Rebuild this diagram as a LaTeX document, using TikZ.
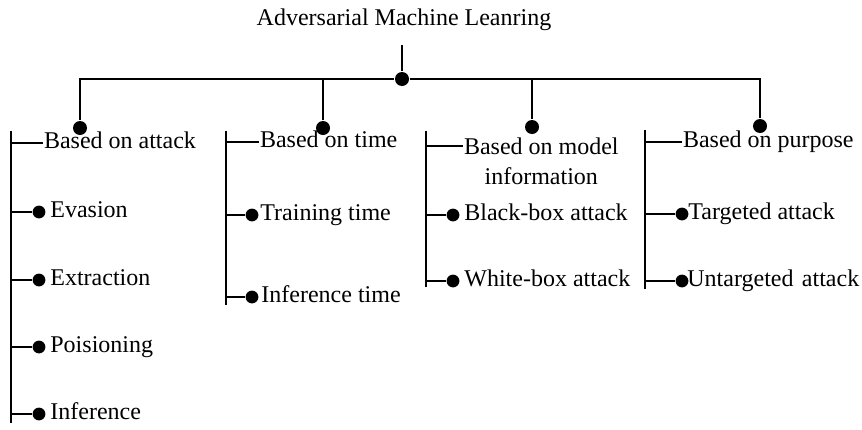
\documentclass[tikz,border=0pt]{standalone}
\usepackage{fontspec}
\setmainfont{Liberation Serif}
\usetikzlibrary{positioning}

\begin{document}
\begin{tikzpicture}[x=0.5pt,y=0.5pt,line width=1pt]
\tikzstyle{every node}+=[inner sep=0pt]
\tikzstyle{lbl}=[font=\fontsize{12pt}{15pt}\selectfont, text height=7.5pt, text depth=2.5pt]
\tikzstyle{dot}=[circle, fill=black, minimum size=7pt]
\tikzstyle{leaf}=[circle, fill=black, minimum size=6.4pt]
\useasboundingbox (0,0) rectangle (862,-429);
% root
\node [lbl, anchor=base] (title) at (404,-25) {Adversarial Machine Leanring};
\coordinate (stub) at (402,-45);
\node [dot] (root) at (402,-79) {};
\node [dot] (att) at (80,-128) {};
\node [dot] (tim) at (323,-128) {};
\node [dot] (mod) at (532,-127) {};
\node [dot] (pur) at (760,-126) {};
\draw (stub) -- (root);
\draw (att) |- (root) -| (pur);
\draw (tim) -- (tim |- root);
\draw (mod) -- (mod |- root);
% based on attack
\coordinate (g1) at (11,-131);
\coordinate (g1b) at (11,-423);
\draw (g1) -- (g1b);
\node [lbl, anchor=west] (hatt) at (43,-143) {Based on attack};
\draw (hatt.west) -- (hatt.west -| g1);
\node [leaf] (eva) at (39,-212) {};
\node [lbl, right=1.5pt of eva] (evat) {Evasion};
\draw (eva) -- (eva -| g1);
\node [leaf] (ext) at (39,-280) {};
\node [lbl, right=1.5pt of ext] (extt) {Extraction};
\draw (ext) -- (ext -| g1);
\node [leaf] (poi) at (39,-347) {};
\node [lbl, right=1.5pt of poi] (poit) {Poisioning};
\draw (poi) -- (poi -| g1);
\node [leaf] (inf) at (39,-414) {};
\node [lbl, right=1.5pt of inf] (inft) {Inference};
\draw (inf) -- (inf -| g1);
% based on time
\coordinate (g2) at (226,-131);
\coordinate (g2b) at (226,-305);
\draw (g2) -- (g2b);
\node [lbl, anchor=west] (htim) at (259,-142) {Based on time};
\draw (htim.west) -- (htim.west -| g2);
\node [leaf] (tra) at (252,-215) {};
\node [lbl, right=0pt of tra] (trat) {Training time};
\draw (tra) -- (tra -| g2);
\node [leaf] (int) at (252,-297) {};
\node [lbl, right=0.5pt of int] (intt) {Inference time};
\draw (int) -- (int -| g2);
% based on model information
\coordinate (g3) at (426,-131);
\coordinate (g3b) at (426,-287);
\draw (g3) -- (g3b);
\node [anchor=north west, align=center, font=\fontsize{12pt}{15pt}\selectfont] (hmod) at (463,-137) {Based on model\\information};
\draw ([yshift=-4.5pt]hmod.north west) -- ([yshift=-4.5pt]hmod.north west -| g3);
\node [leaf] (blk) at (453,-215) {};
\node [lbl, right=1.5pt of blk] (blkt) {Black-box attack};
\draw (blk) -- (blk -| g3);
\node [leaf] (wht) at (453,-281) {};
\node [lbl, right=1.5pt of wht] (whtt) {White-box attack};
\draw (wht) -- (wht -| g3);
% based on purpose
\coordinate (g4) at (645,-130);
\coordinate (g4b) at (645,-289);
\draw (g4) -- (g4b);
\node [lbl, anchor=west] (hpur) at (682,-142) {Based on purpose};
\draw (hpur.west) -- (hpur.west -| g4);
\node [leaf] (tgt) at (682,-214) {};
\node [lbl, right=-1pt of tgt] (tgtt) {Targeted attack};
\draw (tgt) -- (tgt -| g4);
\node [leaf] (utg) at (682,-281) {};
\node [lbl, right=-1.5pt of utg] (utgt) {Untargeted\hspace{0.35em}attack};
\draw (utg) -- (utg -| g4);
\end{tikzpicture}
\end{document}
